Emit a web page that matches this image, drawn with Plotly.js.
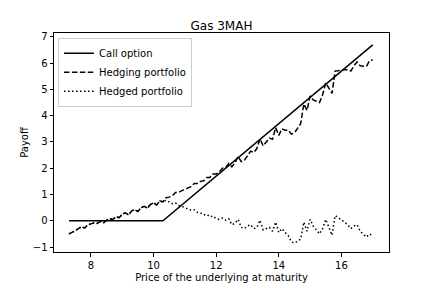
<!DOCTYPE html>
<html>
<head>
<meta charset="utf-8">
<script src="https://cdn.plot.ly/plotly-3.0.1.min.js"></script>
<style>html,body{margin:0;padding:0;background:#fff;}#chart{width:432px;height:288px;}</style>
</head>
<body>
<div id="chart"></div>
<script>
// Underlying price at maturity
const prices = [7.3,7.4,7.5,7.6,7.7,7.8,7.9,8.0,8.1,8.2,8.3,8.4,8.5,8.6,8.7,8.8,8.9,9.0,9.1,9.2,9.3,9.4,9.5,9.6,9.7,9.8,9.9,10.0,10.1,10.2,10.3,10.4,10.5,10.6,10.7,10.8,10.9,11.0,11.1,11.2,11.3,11.4,11.5,11.6,11.7,11.8,11.9,12.0,12.1,12.2,12.3,12.4,12.5,12.6,12.7,12.8,12.9,13.0,13.1,13.2,13.3,13.4,13.5,13.6,13.7,13.8,13.9,14.0,14.1,14.2,14.3,14.4,14.5,14.6,14.7,14.8,14.9,15.0,15.1,15.2,15.3,15.4,15.5,15.6,15.7,15.8,15.9,16.0,16.1,16.2,16.3,16.4,16.5,16.6,16.7,16.8,16.9,17.0];

// Call option payoff (piecewise line: flat then rising)
const callX = [7.3, 10.3, 17.0];
const callY = [0, 0, 6.7];

// Hedging portfolio value
const hedging = [-0.50,-0.45,-0.38,-0.30,-0.22,-0.28,-0.15,-0.12,-0.08,-0.10,-0.02,-0.08,0.02,0.08,0.05,0.15,0.12,0.25,0.30,0.22,0.38,0.42,0.35,0.50,0.55,0.48,0.62,0.68,0.60,0.75,0.72,
0.88,0.90,0.95,1.08,1.08,1.15,1.20,1.25,1.30,1.42,1.42,1.50,1.52,1.65,1.65,1.78,1.78,1.85,2.00,2.02,2.18,2.05,2.20,2.45,2.25,2.30,2.50,2.65,2.60,2.75,3.12,2.85,3.00,3.15,3.10,3.55,3.25,3.50,3.45,3.45,3.30,3.35,3.52,3.70,4.45,4.20,4.75,4.60,4.55,4.50,4.80,5.25,5.05,4.85,5.70,5.72,5.75,5.75,5.75,5.70,5.90,6.05,5.90,5.90,5.88,6.10,6.12];

// Hedged portfolio value
const hedged = [-0.50,-0.45,-0.38,-0.30,-0.22,-0.28,-0.15,-0.12,-0.08,-0.10,-0.02,-0.08,0.02,0.08,0.05,0.15,0.12,0.25,0.30,0.22,0.38,0.42,0.35,0.50,0.55,0.48,0.62,0.68,0.60,0.75,0.72,
0.78,0.70,0.65,0.68,0.58,0.55,0.50,0.45,0.40,0.42,0.32,0.30,0.22,0.25,0.15,0.18,0.08,0.05,0.10,0.02,0.08,-0.15,-0.10,0.05,-0.25,-0.30,-0.20,-0.15,-0.30,-0.25,0.02,-0.35,-0.30,-0.25,-0.40,-0.05,-0.45,-0.30,-0.45,-0.55,-0.80,-0.85,-0.78,-0.70,-0.05,-0.40,0.05,-0.20,-0.35,-0.50,-0.30,0.05,-0.25,-0.55,0.20,0.12,0.05,-0.05,-0.15,-0.30,-0.20,-0.15,-0.40,-0.50,-0.62,-0.50,-0.58];

const xTicks = [8, 10, 12, 14, 16];
const yTicks = [-1, 0, 1, 2, 3, 4, 5, 6, 7];

const font = 'DejaVu Sans, sans-serif';

const traces = [
  {x: callX, y: callY, name: 'Call option', mode: 'lines',
   line: {color: '#000', width: 1.5}},
  {x: prices, y: hedging, name: 'Hedging portfolio', mode: 'lines',
   line: {color: '#000', width: 1.5, dash: '5.5px,2.4px'}},
  {x: prices, y: hedged, name: 'Hedged portfolio', mode: 'lines',
   line: {color: '#000', width: 1.5, dash: '1.5px,2.5px'}}
];

const axisCommon = {
  showgrid: false, zeroline: false, showline: true, mirror: true,
  linecolor: '#000', linewidth: 1, ticks: 'outside', ticklen: 3.5,
  tickwidth: 1, tickcolor: '#000',
  tickfont: {family: font, size: 10, color: '#000'}
};

const layout = {
  width: 432, height: 288,
  margin: {l: 54, r: 43, t: 33, b: 36},
  paper_bgcolor: '#fff', plot_bgcolor: '#fff',
  font: {family: font, size: 10, color: '#000'},
  title: {text: 'Gas 3MAH', font: {family: font, size: 12, color: '#000'},
          x: 0.5, xref: 'paper', y: 0.91, yanchor: 'middle'},
  xaxis: Object.assign({}, axisCommon, {
    range: [6.82, 17.52], tickvals: xTicks, ticktext: xTicks.map(String),
    title: {text: 'Price of the underlying at maturity', font: {family: font, size: 10, color: '#000'}, standoff: 4}
  }),
  yaxis: Object.assign({}, axisCommon, {
    range: [-1.19, 7.15], tickvals: yTicks, ticktext: yTicks.map(v => v < 0 ? '\u2212' + Math.abs(v) : String(v)),
    title: {text: 'Payoff', font: {family: font, size: 10, color: '#000'}, standoff: 2}
  }),
  showlegend: true,
  legend: {x: 0.012, y: 0.978, xanchor: 'left', yanchor: 'top',
           bgcolor: 'rgba(255,255,255,0.8)', bordercolor: '#ccc', borderwidth: 1,
           font: {family: font, size: 10, color: '#000'}, itemwidth: 30,
           tracegroupgap: 0}
};

Plotly.newPlot('chart', traces, layout, {staticPlot: true, displayModeBar: false});
</script>
</body>
</html>
